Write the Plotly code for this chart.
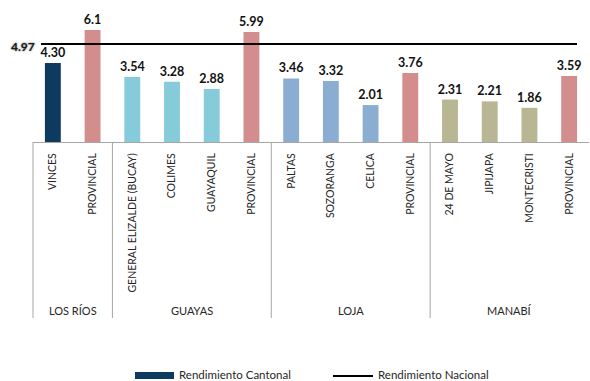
import plotly.graph_objects as go

# Rendimiento por cantón y provincia
provincias = ["LOS RÍOS", "GUAYAS", "LOJA", "MANABÍ"]
cantones = [
    ["VINCES", "PROVINCIAL"],
    ["GENERAL ELIZALDE (BUCAY)", "COLIMES", "GUAYAQUIL", "PROVINCIAL"],
    ["PALTAS", "SOZORANGA", "CELICA", "PROVINCIAL"],
    ["24 DE MAYO", "JIPIJAPA", "MONTECRISTI", "PROVINCIAL"],
]
rendimiento = [4.30, 6.1, 3.54, 3.28, 2.88, 5.99, 3.46, 3.32, 2.01, 3.76, 2.31, 2.21, 1.86, 3.59]
etiquetas = ["4.30", "6.1", "3.54", "3.28", "2.88", "5.99", "3.46", "3.32", "2.01", "3.76",
             "2.31", "2.21", "1.86", "3.59"]
nacional = 4.97

COL_CANTON = "#0f3a5f"
COL_PROV = "#d48d8d"
COL_GRUPO = {"LOS RÍOS": COL_CANTON, "GUAYAS": "#86cbd9", "LOJA": "#8badd2", "MANABÍ": "#b8b693"}

nombres, colores = [], []
for prov, lista in zip(provincias, cantones):
    for c in lista:
        nombres.append(c)
        colores.append(COL_PROV if c == "PROVINCIAL" else COL_GRUPO[prov])

n = len(nombres)
idx = list(range(n))
FONT = "Lato"

fig = go.Figure()
fig.add_trace(go.Bar(
    x=idx, y=rendimiento, width=0.4,
    marker=dict(color=colores, line=dict(width=0)),
    text=etiquetas, textposition="outside", cliponaxis=False, constraintext="none",
    textfont=dict(family=FONT, size=12.5, color="#111111", weight="bold"),
    name="Rendimiento Cantonal", showlegend=False,
))
fig.add_trace(go.Scatter(
    x=idx, y=[nacional] * n, mode="lines", xaxis="x2", yaxis="y2",
    line=dict(color="#000000", width=2),
    name="Rendimiento Nacional", showlegend=False, hoverinfo="skip",
))

W, H = 590, 381
L, R, T, B = 33, 1, 13, 239
plot_w = W - L - R
plot_h = H - T - B

fig.update_layout(
    width=W, height=H,
    margin=dict(l=L, r=R, t=T, b=B, pad=0),
    paper_bgcolor="white", plot_bgcolor="white",
    bargap=0.6,
    font=dict(family=FONT, color="#222222"),
    xaxis=dict(
        range=[-0.5, n - 0.5], tickmode="array", tickvals=idx, ticktext=nombres,
        tickangle=-90, tickfont=dict(family=FONT, size=10.5, color="#262626"),
        showline=True, linecolor="#a6a6a6", linewidth=1,
        showgrid=False, zeroline=False, ticks="", ticklabelstandoff=6,
    ),
    xaxis2=dict(overlaying="x", range=[-0.194, 13.291], visible=False),
    yaxis=dict(range=[0, 7.02], visible=False),
    yaxis2=dict(overlaying="y", range=[0, 6.54], visible=False),
)

# separadores de provincias y nombres de grupo debajo del eje
y_bot = -(318 - (H - B)) / plot_h
pos = 0
bounds = [0]
for prov, lista in zip(provincias, cantones):
    ini = pos
    pos += len(lista)
    bounds.append(pos)
    fig.add_annotation(
        x=(ini + pos) / 2 / n, xref="paper", y=-(310 - (H - B)) / plot_h, yref="paper",
        text=prov, showarrow=False, font=dict(family=FONT, size=11, color="#262626"),
        xanchor="center", yanchor="middle",
    )
for b in bounds[:-1]:
    fig.add_shape(type="line", xref="paper", yref="paper",
                  x0=b / n, x1=b / n, y0=0, y1=y_bot,
                  line=dict(color="#a6a6a6", width=1))

# etiqueta del promedio nacional
fig.add_annotation(
    x=(22.5 - L) / plot_w, xref="paper", y=nacional, yref="y2", yshift=-3,
    text=f"{nacional:.2f}", showarrow=False,
    font=dict(family=FONT, size=12, color="#1a1a1a", weight="bold",
              shadow="0px 0px 2px #555555"),
    xanchor="center", yanchor="middle",
)

# leyenda
def px_x(v):
    return (v - L) / plot_w

def px_y(v):
    return (H - B - v) / plot_h

fig.add_shape(type="rect", xref="paper", yref="paper",
              x0=px_x(135), x1=px_x(174), y0=px_y(372), y1=px_y(379),
              fillcolor=COL_CANTON, line=dict(width=0))
fig.add_annotation(x=px_x(178), y=px_y(374.5), xref="paper", yref="paper",
                   text="Rendimiento Cantonal", showarrow=False, xanchor="left",
                   yanchor="middle", borderpad=0,
                   font=dict(family=FONT, size=11.5, color="#262626"))
fig.add_shape(type="line", xref="paper", yref="paper",
              x0=px_x(333), x1=px_x(373), y0=px_y(376), y1=px_y(376),
              line=dict(color="#000000", width=2))
fig.add_annotation(x=px_x(377), y=px_y(374.5), xref="paper", yref="paper",
                   text="Rendimiento Nacional", showarrow=False, xanchor="left",
                   yanchor="middle", borderpad=0,
                   font=dict(family=FONT, size=11.5, color="#262626"))

fig.write_html("out.html")
